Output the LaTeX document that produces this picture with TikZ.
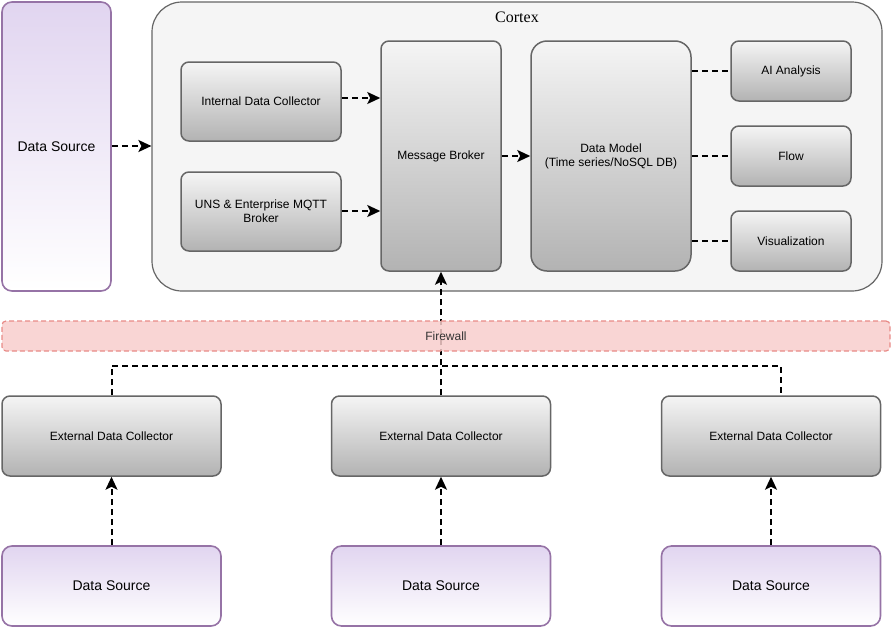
\documentclass[tikz,border=0pt]{standalone}
\usepackage{fontspec}
\setmainfont{Liberation Sans}
\newfontfamily\serifx{Liberation Serif}
\usetikzlibrary{arrows.meta}
\definecolor{gb}{HTML}{666666}
\definecolor{pb}{HTML}{9673A6}
\definecolor{pf}{HTML}{E1D5F0}
\definecolor{fw}{HTML}{F8CECC}
\definecolor{fwb}{HTML}{E88A87}
\tikzset{
 gbox/.style={draw=gb,rounded corners=8pt,top color=gray!8,bottom color=gray!60,line width=1.5pt,align=center,font=\fontsize{12}{14}\selectfont,inner sep=2pt},
 pbox/.style={draw=pb,rounded corners=10pt,top color=pf,bottom color=white,line width=1.6pt,align=center,font=\fontsize{14}{16}\selectfont},
 dl/.style={dash pattern=on 6pt off 4pt,line width=2pt},
 da/.style={dl,-{Stealth[length=13pt,width=12pt,inset=3pt]}},
}
\begin{document}
\begin{tikzpicture}[x=1pt,y=-1pt]
\useasboundingbox (0,0) rectangle (892,627);
\node[pbox,minimum width=109pt,minimum height=289pt] (dsl) at (56.5,146.5) {Data Source};
\node[draw=gb,fill=gray!8,rounded corners=30pt,line width=1.2pt,minimum width=730pt,minimum height=289pt] (cx) at (517,146.5) {};
\node[font=\serifx\fontsize{16}{18}\selectfont] (cxl) at (517,17) {Cortex};
\node[gbox,minimum width=160pt,minimum height=79pt] (idc) at (261,101.5) {Internal Data Collector};
\node[gbox,minimum width=160pt,minimum height=79pt] (uns) at (261,211.5) {UNS \& Enterprise MQTT\\Broker};
\node[gbox,minimum width=120pt,minimum height=230pt] (mb) at (441,156) {Message Broker};
\node[gbox,rounded corners=16pt,minimum width=160pt,minimum height=230pt] (dm) at (611,156) {Data Model\\(Time series/NoSQL DB)};
\node[gbox,minimum width=120pt,minimum height=60pt] (ai) at (791,71) {AI Analysis};
\node[gbox,minimum width=120pt,minimum height=60pt] (fl) at (791,156) {Flow};
\node[gbox,minimum width=120pt,minimum height=60pt] (vi) at (791,241) {Visualization};
\foreach \n/\x in {e1/111.5,e2/441,e3/771}{
 \node[gbox,minimum width=219pt,minimum height=80pt] (\n) at (\x,436) {External Data Collector};
}
\foreach \n/\x in {d1/111.5,d2/441,d3/771}{
 \node[pbox,minimum width=219pt,minimum height=80pt] (\n) at (\x,586) {Data Source};
}
\draw[da] (dsl.east |- 0,146) -- (cx.west |- 0,146);
\draw[da] (idc.east |- 0,98) -- (mb.west |- 0,98);
\draw[da] (uns.east |- 0,211) -- (mb.west |- 0,211);
\draw[da] (mb.east |- 0,156) -- (dm.west |- 0,156);
\draw[dl] (dm.east |- 0,71) -- (ai.west);
\draw[dl] (dm.east |- 0,156) -- (fl.west);
\draw[dl] (dm.east |- 0,241) -- (vi.west);
\coordinate (j1) at (111.5,366);
\coordinate (j3) at (781,366);
\draw[dl] (e1.north) -- (j1) -- (j3) -- (j3 |- e3.north);
\draw[da] (e2.north) -- (mb.south);
\foreach \i in {1,2,3}{\draw[da] (d\i.north) -- (e\i.south);}
\node[draw=fwb,dash pattern=on 5pt off 3pt,fill=fw,fill opacity=0.85,draw opacity=1,text opacity=1,rounded corners=4pt,line width=1.2pt,minimum width=888pt,minimum height=30pt,font=\fontsize{12}{14}\selectfont,text=black!80] (fwl) at (446,336) {Firewall};
\end{tikzpicture}
\end{document}
